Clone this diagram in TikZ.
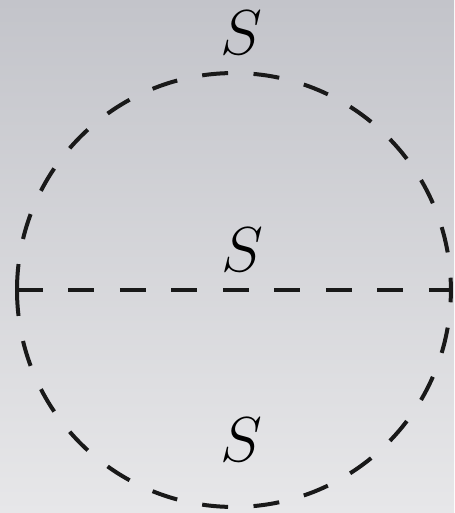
\documentclass[tikz,border=0pt]{standalone}
\usepackage{tikz}
\usetikzlibrary{positioning, calc}

\begin{document}
\begin{tikzpicture}[
    x=0.02cm, y=-0.02cm,
    prop/.style={line width=0.08cm, draw=black!90, dash pattern=on 0.52cm off 0.51cm},
    label/.style={inner sep=0pt, font=\Huge, scale=1.45}
]
\shade[top color={rgb,255:red,195;green,196;blue,202}, bottom color={rgb,255:red,231;green,231;blue,233}]
    (0,0) rectangle (454,513);
\useasboundingbox (0,0) rectangle (454,513);

\coordinate (centre) at (234,290);
\coordinate (left) at (17,290);
\coordinate (right) at (451,290);

\node[label] (top) at (241,33) {$S$};
\node[label] (mid) at (242,250) {$S$};
\node[label] (bot) at (241,440) {$S$};

\draw[prop] (left) arc[start angle=180, end angle=0, radius=4.34cm];
\draw[prop] (left) arc[start angle=180, end angle=360, radius=4.34cm];
\draw[prop] (left) -- (right);
\end{tikzpicture}
\end{document}
